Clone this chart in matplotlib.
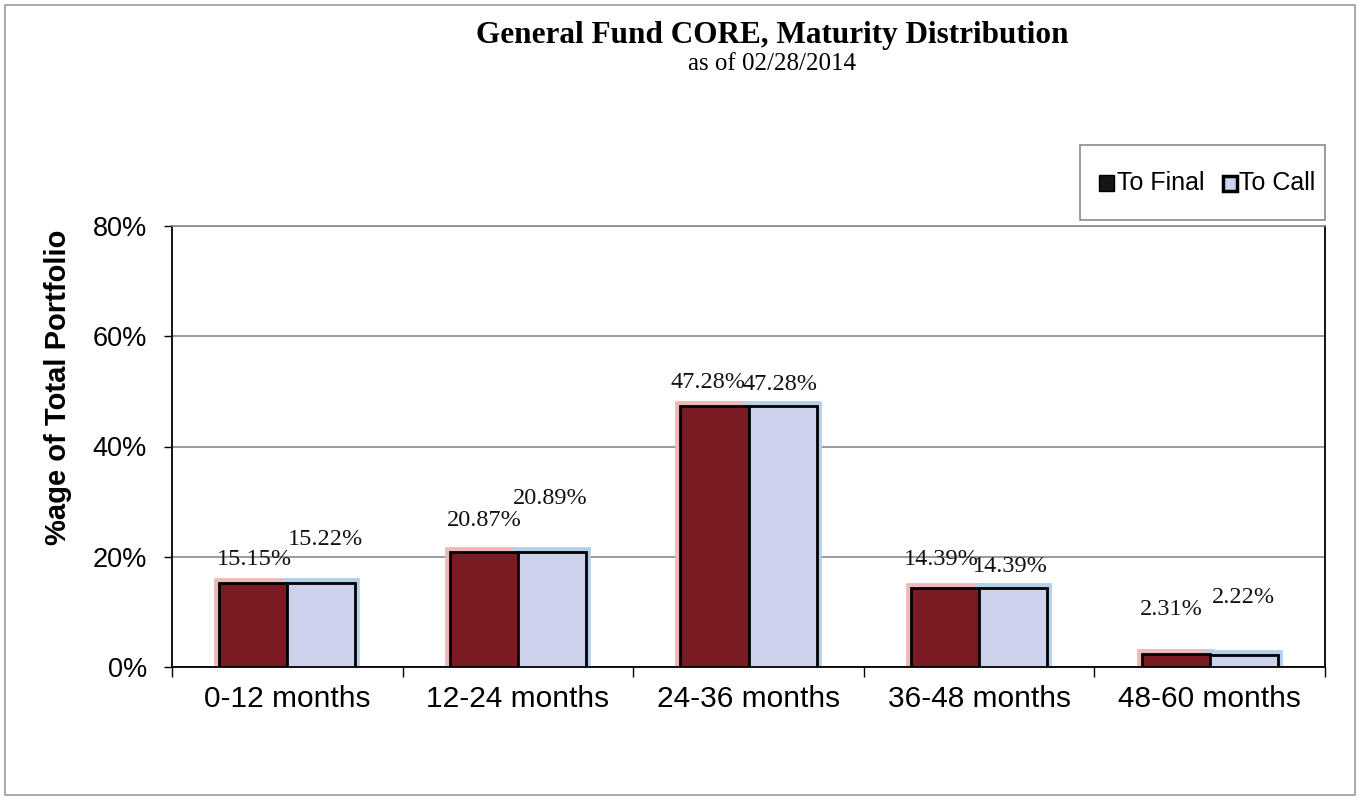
import matplotlib
matplotlib.use("Agg")
import matplotlib.pyplot as plt
import numpy as np
from matplotlib.patches import Rectangle

categories = ["0-12 months", "12-24 months", "24-36 months", "36-48 months", "48-60 months"]
to_final = [15.15, 20.87, 47.28, 14.39, 2.31]
to_call = [15.22, 20.89, 47.28, 14.39, 2.22]
final_labels = ["15.15%", "20.87%", "47.28%", "14.39%", "2.31%"]
call_labels = ["15.22%", "20.89%", "47.28%", "14.39%", "2.22%"]
y_ticks = [0, 20, 40, 60, 80]
y_tick_labels = ["0%", "20%", "40%", "60%", "80%"]

# label offsets in points (style)
final_off = [(1, 17.5), (0, 22.5), (-5, 17.5), (-3, 20.5), (-3, 32.5)]
call_off = [(3, 31.5), (-1, 38.5), (-2, 15.5), (-2, 15.5), (0, 41.5)]

fig = plt.figure(figsize=(13.65, 8), dpi=100)
fig.patch.set_facecolor("white")
fig.add_artist(Rectangle((5/1365, 5/800), 1350/1365, 790/800, transform=fig.transFigure,
                         fill=False, edgecolor="#9a9a9a", linewidth=1.2))

ax = fig.add_axes([172/1365, (800-667)/800, (1325-172)/1365, (667-226)/800])
x = np.arange(len(categories))
w = 0.295
RED = "#7A1A22"
LAV = "#CDD2EC"

ax.bar(x - w/2, to_final, w, color="none", edgecolor="#EDB8B8", linewidth=7, zorder=2)
ax.bar(x + w/2, to_call, w, color="none", edgecolor="#B3CFEA", linewidth=7, zorder=2)
ax.bar(x - w/2, to_final, w, color=RED, edgecolor="black", linewidth=2, zorder=3)
ax.bar(x + w/2, to_call, w, color=LAV, edgecolor="black", linewidth=2, zorder=3)

for i in range(len(categories)):
    ax.annotate(final_labels[i], (x[i] - w/2, to_final[i]), xytext=final_off[i],
                textcoords="offset points", ha="center", va="center",
                fontsize=17.5, family="Liberation Serif", color="#111111", zorder=5)
    ax.annotate(call_labels[i], (x[i] + w/2, to_call[i]), xytext=call_off[i],
                textcoords="offset points", ha="center", va="center",
                fontsize=17.5, family="Liberation Serif", color="#111111", zorder=5)

ax.set_xlim(-0.5, len(categories) - 0.5)
ax.set_ylim(0, 80)
ax.set_yticks(y_ticks)
ax.set_yticklabels(y_tick_labels, fontsize=19.5, family="Liberation Sans")
ax.set_xticks(x)
ax.set_xticklabels(categories, fontsize=21.5, family="Liberation Sans")
ax.set_xticks(np.arange(-0.5, len(categories)), minor=True)
ax.tick_params(axis="x", which="major", length=0, pad=13)
ax.tick_params(axis="x", which="minor", length=7, width=1, direction="out")
ax.tick_params(axis="y", length=6, width=1, pad=12, direction="out")
ax.grid(axis="y", color="#8a8a8a", linewidth=1.2, zorder=0)
ax.set_axisbelow(True)
for s in ["left", "bottom", "right"]:
    ax.spines[s].set_color("black")
    ax.spines[s].set_linewidth(1.3)
ax.spines["top"].set_color("#8a8a8a")
ax.spines["top"].set_linewidth(1.2)

fig.text(58/1365, 1 - 387/800, "%age of Total Portfolio", rotation=90, ha="center", va="center",
         fontsize=21, fontweight="bold", family="Liberation Sans")

fig.text(772/1365, 1 - 36/800, "General Fund CORE, Maturity Distribution", ha="center", va="center",
         fontsize=22.5, fontweight="bold", family="Liberation Serif")
fig.text(772/1365, 1 - 64/800, "as of 02/28/2014", ha="center", va="center",
         fontsize=18, family="Liberation Serif")

# legend box
fig.add_artist(Rectangle((1080/1365, 1 - 220/800), 245/1365, 75/800, transform=fig.transFigure,
                         fill=True, facecolor="white", edgecolor="#8a8a8a", linewidth=1.2))
fig.add_artist(Rectangle((1099/1365, 1 - 191/800), 15/1365, 16/800, transform=fig.transFigure,
                         facecolor="#151515", edgecolor="black", linewidth=1))
fig.text(1117/1365, 1 - 183/800, "To Final", ha="left", va="center", fontsize=18,
         family="Liberation Sans")
fig.add_artist(Rectangle((1223/1365, 1 - 191/800), 14/1365, 15/800, transform=fig.transFigure,
                         facecolor=LAV, edgecolor="black", linewidth=2.5))
fig.text(1239/1365, 1 - 183/800, "To Call", ha="left", va="center", fontsize=18,
         family="Liberation Sans")

fig.savefig("out.png", dpi=100)
